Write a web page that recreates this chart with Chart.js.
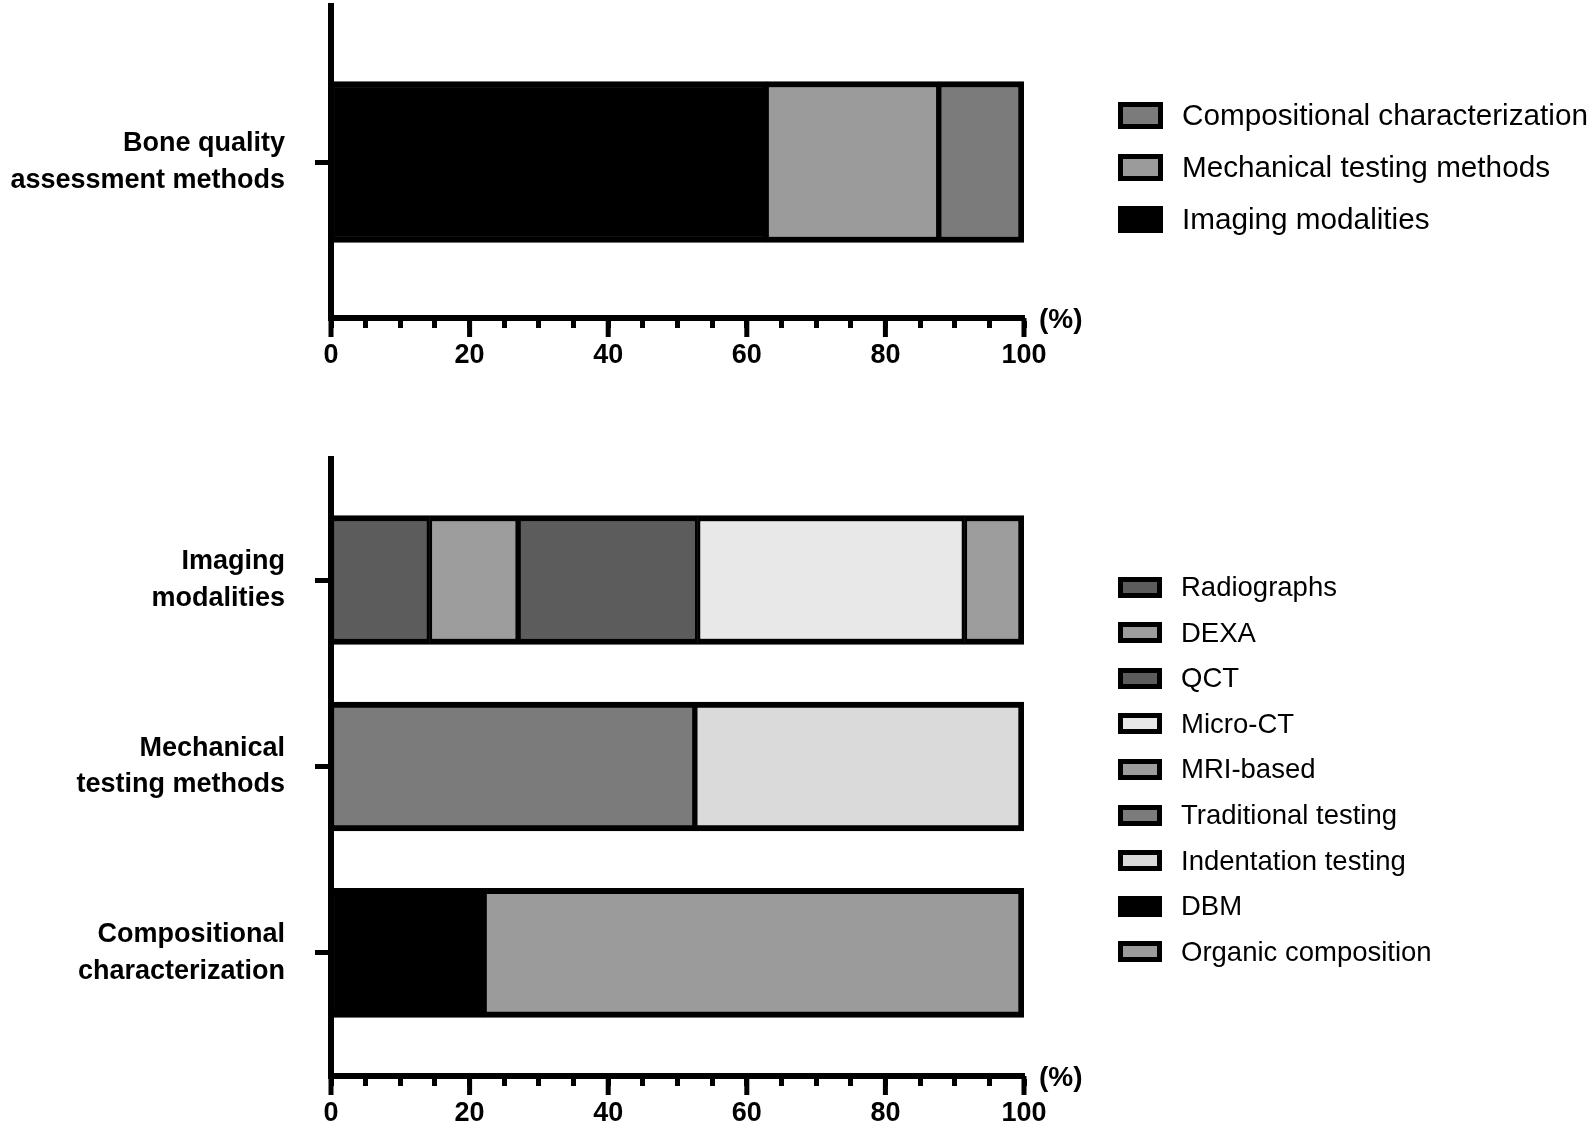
<!DOCTYPE html>
<html lang="en">

<head>
    <meta charset="UTF-8">
    <title>bone quality assessment methods</title>
    <script src="https://cdn.jsdelivr.net/npm/chart.js"></script>
    <style>
        body { margin: 0; background: #fff; font-family: "Liberation Sans", Arial, sans-serif; }
        #page { position: relative; width: 1594px; height: 1130px; }
        .wrap { position: absolute; left: 0; }
        .legend { position: absolute; left: 1118px; }
        .legend .item { position: absolute; left: 0; display: flex; align-items: center; white-space: nowrap; color: #000; }
        .legend .box { box-sizing: border-box; border: 5px solid #000; margin-right: 19px; }
    </style>
</head>

<body>
    <div id="page">
        <div class="wrap" style="top: 0px;"><canvas id="topChart" width="1594" height="400"></canvas></div>
        <div class="wrap" style="top: 400px;"><canvas id="bottomChart" width="1594" height="730"></canvas></div>
        <div class="legend" id="topLegend"></div>
        <div class="legend" id="bottomLegend"></div>
    </div>
    <script>
        // --- data (in %) ---
        const topCategories = [['Bone quality', 'assessment methods']];
        const topSeries = ['Imaging modalities', 'Mechanical testing methods', 'Compositional characterization'];
        const topValues = [
            [62.8],
            [24.9],
            [12.3]
        ];

        const bottomCategories = [['Imaging', 'modalities'], ['Mechanical', 'testing methods'], ['Compositional', 'characterization']];
        const bottomSeries = ['Radiographs', 'DEXA', 'QCT', 'Micro-CT', 'MRI-based', 'Traditional testing', 'Indentation testing', 'DBM', 'Organic composition'];
        const bottomValues = [
            [14.2, null, null],
            [12.8, null, null],
            [25.9, null, null],
            [38.5, null, null],
            [8.6, null, null],
            [null, 52.5, null],
            [null, 47.5, null],
            [null, null, 22.1],
            [null, null, 77.9]
        ];

        const xLabelStep = 20;   // labelled ticks
        const xMinorStep = 5;    // small ticks

        // --- styles ---
        const topColors = ['#000000', '#9b9b9b', '#7b7b7b'];
        const bottomColors = ['#5c5c5c', '#9d9d9d', '#5c5c5c', '#e8e8e8', '#9d9d9d', '#7b7b7b', '#dadada', '#000000', '#9b9b9b'];
        const FONT = '"Liberation Sans", Arial, sans-serif';

        // borders between stacked pieces: thin inside, thick at the outer end
        function segBorder(values, ds) {
            return function (ctx) {
                if (!ctx.raw) return 6;
                const row = ctx.raw.y;
                let last = -1;
                values.forEach((s, i) => { if (s[row] != null) last = i; });
                return { top: 6, bottom: 6, left: 3, right: ds === last ? 6 : 3 };
            };
        }

        function makeDatasets(series, values, colors) {
            return series.map((name, d) => ({
                label: name,
                data: values[d].map((v, i) => v == null ? null : { x: v, y: i }).filter(Boolean),
                backgroundColor: colors[d],
                borderColor: '#000',
                borderWidth: segBorder(values, d),
                borderSkipped: false
            }));
        }

        // long ticks at labelled values + "(%)" at the end of the axis
        const axisExtras = {
            id: 'axisExtras',
            afterDraw(chart) {
                const x = chart.scales.x;
                const ctx = chart.ctx;
                ctx.save();
                ctx.strokeStyle = '#000';
                ctx.lineWidth = 5;
                for (let v = 0; v <= 100; v += xLabelStep) {
                    const px = x.getPixelForValue(v);
                    ctx.beginPath();
                    ctx.moveTo(px, x.top);
                    ctx.lineTo(px, x.top + 19);
                    ctx.stroke();
                }
                ctx.fillStyle = '#000';
                ctx.font = 'bold 28px ' + FONT;
                ctx.textBaseline = 'middle';
                ctx.textAlign = 'left';
                ctx.fillText('(%)', x.right + 15, x.top + 2);
                ctx.restore();
            }
        };

        function makeChart(id, categories, series, values, colors, cfg) {
            return new Chart(document.getElementById(id), {
                type: 'bar',
                data: { datasets: makeDatasets(series, values, colors) },
                options: {
                    indexAxis: 'y',
                    responsive: false,
                    animation: false,
                    barThickness: cfg.barThickness,
                    layout: { padding: { top: cfg.top, right: 570, left: 0, bottom: 0 } },
                    plugins: { legend: { display: false }, tooltip: { enabled: false } },
                    scales: {
                        x: {
                            type: 'linear',
                            stacked: true,
                            min: 0,
                            max: 100,
                            afterFit: s => { s.height = cfg.xHeight; },
                            border: { display: true, color: '#000', width: 6 },
                            grid: { drawOnChartArea: false, drawTicks: true, tickLength: 10, tickWidth: 5, tickColor: '#000' },
                            ticks: {
                                stepSize: xMinorStep,
                                autoSkip: false,
                                maxRotation: 0,
                                padding: 11,
                                color: '#000',
                                font: { family: FONT, size: 27, weight: 'bold' },
                                callback: v => (v % xLabelStep === 0 ? v : '')
                            }
                        },
                        y: {
                            type: 'linear',
                            stacked: true,
                            reverse: true,
                            offset: false,
                            min: cfg.yMin,
                            max: cfg.yMax,
                            afterFit: s => { s.width = 331; s.paddingTop = 0; s.paddingBottom = 0; },
                            afterBuildTicks: s => { s.ticks = categories.map((c, i) => ({ value: i })); },
                            border: { display: true, color: '#000', width: 6 },
                            grid: { offset: false, drawOnChartArea: false, drawTicks: true, tickLength: 16, tickWidth: 5, tickColor: '#000' },
                            ticks: {
                                padding: 30,
                                color: '#000',
                                font: { family: FONT, size: 27, weight: 'bold', lineHeight: 1.35 },
                                callback: v => categories[v]
                            }
                        }
                    }
                },
                plugins: [axisExtras]
            });
        }

        function buildLegend(chart, elId, reverse, cfg) {
            const el = document.getElementById(elId);
            let items = chart.data.datasets.map(ds => ({ text: ds.label, color: ds.backgroundColor }));
            if (reverse) items = items.reverse();
            items.forEach((it, i) => {
                const row = document.createElement('div');
                row.className = 'item';
                row.style.top = (cfg.first + i * cfg.step - cfg.rowH / 2) + 'px';
                row.style.height = cfg.rowH + 'px';
                row.style.fontSize = cfg.fontSize + 'px';
                const box = document.createElement('span');
                box.className = 'box';
                box.style.width = cfg.boxW + 'px';
                box.style.height = cfg.boxH + 'px';
                box.style.background = it.color;
                const label = document.createElement('span');
                label.textContent = it.text;
                row.appendChild(box);
                row.appendChild(label);
                el.appendChild(row);
            });
        }

        const topChart = makeChart('topChart', topCategories, topSeries, topValues, topColors, {
            barThickness: 161, top: 6, xHeight: 82, yMin: -1, yMax: 1
        });
        const bottomChart = makeChart('bottomChart', bottomCategories, bottomSeries, bottomValues, bottomColors, {
            barThickness: 129, top: 59, xHeight: 54, yMin: -0.649, yMax: 2.66
        });

        buildLegend(topChart, 'topLegend', true, { first: 115, step: 52, rowH: 40, fontSize: 29.7, boxW: 45, boxH: 27 });
        buildLegend(bottomChart, 'bottomLegend', false, { first: 587, step: 45.6, rowH: 36, fontSize: 27.5, boxW: 44, boxH: 21 });
    </script>
</body>

</html>
